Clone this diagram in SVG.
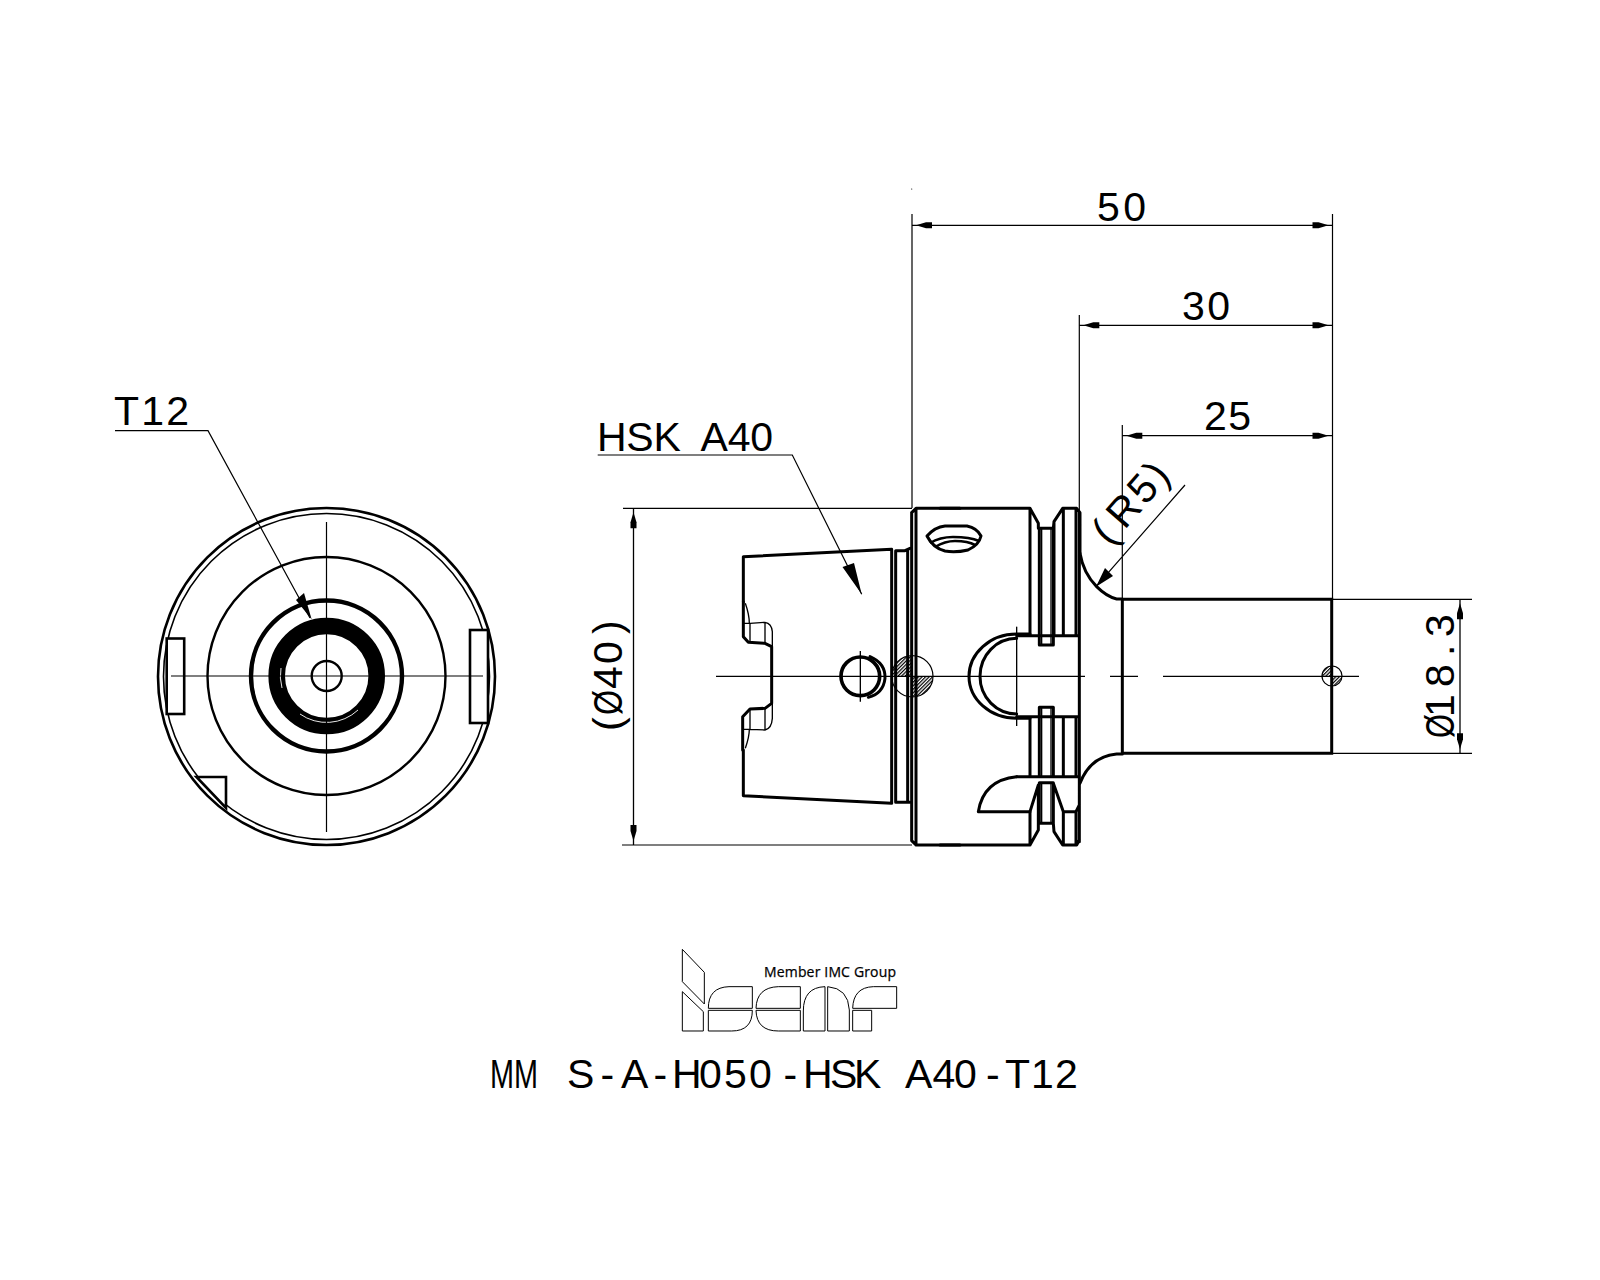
<svg xmlns="http://www.w3.org/2000/svg" width="1600" height="1280" viewBox="0 0 1600 1280">
<style>
.t{font-family:"Liberation Sans",Arial,sans-serif;font-size:41px;fill:#000}
.k{fill:none;stroke:#000;stroke-width:9;stroke-linejoin:round;stroke-linecap:round}
.n{fill:none;stroke:#000;stroke-width:1.2}
.d{fill:none;stroke:#000;stroke-width:1.3;marker-start:url(#a);marker-end:url(#a)}
.c{fill:none;stroke:#000;stroke-width:4}
.l{fill:#fff;stroke:#000;stroke-width:3;stroke-linejoin:miter}
</style>
<defs>
<marker id="a" markerUnits="userSpaceOnUse" markerWidth="24" markerHeight="10" refX="24" refY="5" orient="auto-start-reverse" viewBox="0 0 24 10"><path d="M20,5 L10,2 L4,2 V8 L10,8 z" fill="#000"/></marker>
<pattern id="h1" patternUnits="userSpaceOnUse" width="2.5" height="2.5" patternTransform="rotate(-45)"><rect width="2.5" height="1.2" fill="#000"/></pattern>
</defs>
<rect width="1600" height="1280" fill="#fff"/>

<g id="front-view">
<g fill="none" stroke="#000">
<circle cx="326.5" cy="676.5" r="168.5" stroke-width="2.6"/>
<circle cx="326.5" cy="676.5" r="163" stroke-width="1.6"/>
<circle cx="326.5" cy="676" r="119" stroke-width="2.4"/>
<circle cx="326.5" cy="676" r="75.5" stroke-width="4.4"/>
<circle cx="326.7" cy="676" r="50" stroke-width="16.6"/>
<circle cx="326.7" cy="676" r="15" stroke-width="2.4"/>
<path d="M281,668 A46,46 0 0 0 282,688 M300,714 A46,46 0 0 0 358,710" stroke="#fff" stroke-width="0.9"/>
<rect x="166.7" y="638.5" width="17.5" height="75.5" stroke-width="2.6" fill="#fff"/>
<rect x="470" y="630" width="18" height="93" stroke-width="2.6" fill="#fff"/>
<path d="M196.5,777 H226 V808 z" stroke-width="2.6" fill="#fff"/>
</g>
<path class="n" d="M326.5,522 V832 M171,676 H483"/>
<path class="n" d="M115,430.7 H208 L310,618"/>
<path d="M311.7,619.5 L296,600 L304,593 z" fill="#000"/>
<text class="t" x="114" y="425" textLength="75">T12</text>
</g>

<g id="side-view">
<g id="taper" transform="translate(720,490) scale(.33333)">
<path class="k" d="M70,335 V200 L515,178 M70,780 V917 L515,940 M515,178 V940 M527,182 V937 M527,182 H555 L570,175 M527,937 H570 M563,182 V937"/>
<path class="k" d="M70,335 V440 L85,457 L135,460 L155,470 V640 L135,655 L90,657 L68,680 V780"/>
<path class="c" d="M90,400 L135,397 Q155,400 157,425 V470 M90,400 V457 M135,400 V460 M76,340 Q88,375 88,400 L70,400"/>
<path class="c" d="M90,657 V718 L135,720 Q155,715 157,685 V640 M135,657 V720 M76,775 Q88,740 88,718 L70,718"/>
<circle cx="421" cy="559" r="58" fill="none" stroke="#000" stroke-width="11"/>
<path class="k" d="M450,500 Q497,520 495,565 Q490,610 445,622"/>
<path class="c" d="M421,483 V635"/>
</g>
<path d="M912.3,676.3 V655.6 A20.7,20.7 0 0 0 891.6,676.3 z M912.3,676.3 V697 A20.7,20.7 0 0 0 933,676.3 z" fill="url(#h1)"/>
<circle cx="912.3" cy="676.3" r="20.7" class="n" stroke-width="1"/>
<g id="body" transform="translate(720,490) scale(.33333)">
<path class="k" d="M588,55 V1065 M575,68 V1052 L588,1065 M575,68 L588,55 M588,55 H720 M588,1065 H720"/>
</g>
<g id="collar" transform="translate(950,490) scale(.33333)">
<path class="k" d="M-30,55 H240 L265,100 V115 H310 L312,95 L338,55 H380 L390,68 V190 M240,55 V437 M268,115 V465 H310 V115 M312,95 V437 M340,55 V437 M378,55 V437 M200,437 H385"/>
<path class="c" d="M275,115 V465 M303,115 V465"/>
<path class="k" d="M268,680 V652 H310 V680 M200,680 H385 M240,680 V860 M268,680 V860 M310,680 V860 M340,680 V860 M378,680 V860 M200,860 H385"/>
<path class="c" d="M275,652 V860 M303,652 V860"/>
<path class="k" d="M388,68 V1055 M240,965 V1065 H-30 M240,965 L265,885 V1020 L240,1065 M268,878 V1000 H310 V878 H268 M310,1000 L312,1025 L338,1065 H380 L388,1050 M310,880 L340,965 H378 L388,945 M340,965 V1065 M378,965 V1065"/>
<path class="c" d="M275,878 V1000 M303,878 V1000"/>
<path class="k" d="M85,965 H240 M85,965 Q100,870 200,860"/>
<path class="k" d="M240,432 H200 C120,432 57,490 57,559 C57,628 120,685 200,685 H240" stroke-width="7"/>
<path class="k" d="M200,445 C140,445 90,495 90,559 C90,623 140,672 200,672" stroke-width="7"/>
<path class="c" d="M200,410 V708"/>
<path class="k" d="M390,190 Q400,250 440,290 Q470,320 500,327 H517 M517,327 V790 M390,880 Q420,800 500,792 H517"/>
</g>
<g id="slot" fill="none" stroke="#000" stroke-width="2.6" stroke-linejoin="round">
<path d="M927,536 Q935,527 945,526 H967 Q977,528 981,536 Q979,545 968,550 Q955,553 945,551 Q933,548 927,536 z" stroke-width="3"/>
<path d="M930,543 Q940,537 953,537 Q970,537 979,541 M935,547 Q945,541 955,541 Q968,541 975,545"/>
</g>
<path d="M1122.3,599.3 H1331.7 V753.3 H1122.3" fill="none" stroke="#000" stroke-width="3"/>
<path d="M1332,676 V666 A10,10 0 0 0 1322,676 z M1332,676 V686 A10,10 0 0 0 1342,676 z" fill="url(#h1)"/>
<circle cx="1332" cy="676" r="10" class="n" stroke-width="1"/>
</g>

<g id="connectors">
<path class="n" d="M716,676.4 H1085 M1110,676.4 H1138 M1163,676.4 H1359"/>
<path class="n" d="M912,214 V508 M1079.3,315 V555 M1122.3,425 V599 M1332.5,214 V599 M623,508.3 H912 M622,845 H912 M1333,599.3 H1472 M1333,753.3 H1472 M597.7,455 H792.3 L861.7,594.3 M1185,485 L1096,586.7"/>
<line class="d" x1="912" y1="225.3" x2="1332.5" y2="225.3"/>
<line class="d" x1="1079.3" y1="325.3" x2="1332.5" y2="325.3"/>
<line class="d" x1="1122.3" y1="435.7" x2="1332.5" y2="435.7"/>
<line class="d" x1="633.5" y1="508.3" x2="633.5" y2="845"/>
<line class="d" x1="1460" y1="599.3" x2="1460" y2="753.3"/>
<path d="M861.7,594.3 L842.5,567 L854,563 z M1096,586.7 L1105,568 L1113,576 z" fill="#000"/>
<circle cx="911.7" cy="189" r=".6" fill="#000"/>
</g>

<g id="labels">
<text class="t" x="1097" y="220.7" textLength="49">50</text>
<text class="t" x="1182" y="320" textLength="48">30</text>
<text class="t" x="1204" y="430" textLength="47">25</text>
<text class="t" x="597" y="450.7" textLength="176" xml:space="preserve">HSK  A40</text>
<text class="t" transform="translate(622,731) rotate(-90)"><tspan x="0">(</tspan><tspan x="16" textLength="25" lengthAdjust="spacingAndGlyphs">Ø</tspan><tspan x="42 67 97">40)</tspan></text>
<text class="t" transform="translate(1454,738) rotate(-90)"><tspan x="0" textLength="24" lengthAdjust="spacingAndGlyphs">Ø</tspan><tspan x="21 51 82 101">18.3</tspan></text>
<text class="t" transform="translate(1110,547) rotate(-48.8)" x="0 22 54 80">(R5)</text>
<text class="t" y="1088" xml:space="preserve"><tspan x="490" textLength="48" lengthAdjust="spacingAndGlyphs">MM</tspan>  <tspan x="567 600.5 621 653.5 672 699 724 749 783.5 803 830 854 880 892 905 932.5 954 986 1005 1031 1055">S-A-H050-HSK  A40-T12</tspan></text>
</g>

<g id="logo" transform="translate(660,930) scale(.33333)">
<path class="l" d="M67,58 L133,127 V222 L67,155 z M67,185 L130,245 V303 H67 z"/>
<path class="l" d="M145,235 Q145,172 207,170 H277 V235 z M145,241 H277 Q277,303 215,303 H145 z"/>
<path class="l" d="M288,235 Q290,172 355,170 H421 V235 z M288,241 H421 V303 H355 Q290,303 288,241 z"/>
<path class="l" d="M430,303 V243 Q430,172 495,170 V303 z M503,170 Q565,175 568,240 V303 H503 z"/>
<path class="l" d="M578,235 Q580,172 640,170 H710 V235 z M578,241 H635 V303 H578 z"/>
</g>
<text x="764" y="976.7" font-family="'Open Sans','Liberation Sans',sans-serif" font-size="14" textLength="132" stroke="#000" stroke-width=".25">Member IMC Group</text>
</svg>
